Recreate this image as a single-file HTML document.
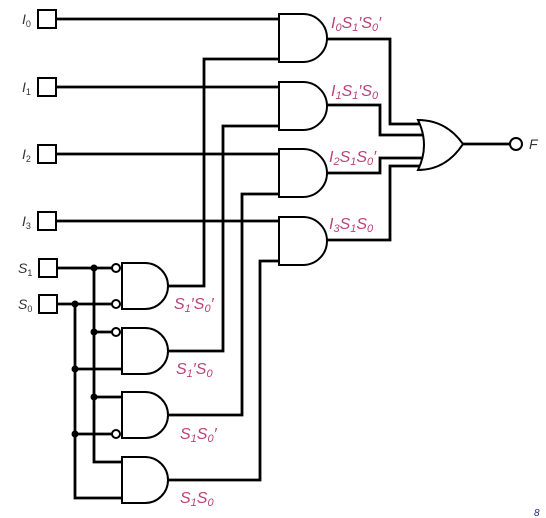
<!DOCTYPE html>
<html><head><meta charset="utf-8"><style>
body{margin:0;background:#fff}
svg{display:block}
.w{stroke:#000;stroke-width:2.8;fill:none}
.g{stroke:#000;stroke-width:2;fill:#fff}
.l{font-family:"Liberation Sans",sans-serif;font-style:italic;fill:#b8447a;font-size:16px}
.i{font-family:"Liberation Sans",sans-serif;font-style:italic;fill:#333;font-size:14px}
</style></head><body>
<svg width="546" height="518" viewBox="0 0 546 518">
<g>
<path class="w" d="M56 19H279M56 87H279M56 154H279M56 221H279"/>
<path class="w" d="M279 59H204V286H168M279 126H223V351H168M279 194H242V415H168M279 261H260V480H168"/>
<path class="w" d="M326 39H390V124H420M326 105H380V135H423M326 173H380V158H423M326 240H390V166H420"/>
<path class="w" d="M463 144H510"/>
<path class="w" d="M57 268H112M57 304H112M94 268V462H122M75 304V498H122M94 332H112M75 369H122M94 397H122M75 434H112"/>
</g>
<g class="g">
<rect x="38" y="10" width="18" height="18"/>
<rect x="38" y="78" width="18" height="18"/>
<rect x="38" y="145" width="18" height="18"/>
<rect x="38" y="212" width="18" height="18"/>
<rect x="39" y="259" width="18" height="18"/>
<rect x="39" y="295" width="18" height="18"/>
</g>
<g class="g">
<path d="M279 14H303A24 24 0 0 1 303 62H279Z"/>
<path d="M279 82H303A24 24 0 0 1 303 130H279Z"/>
<path d="M279 149H303A24 24 0 0 1 303 197H279Z"/>
<path d="M279 217H303A24 24 0 0 1 303 265H279Z"/>
<path d="M122 263H145A23 23 0 0 1 145 309H122Z"/>
<path d="M122 328H145A23 23 0 0 1 145 374H122Z"/>
<path d="M122 392H145A23 23 0 0 1 145 438H122Z"/>
<path d="M122 457H145A23 23 0 0 1 145 503H122Z"/>
<path d="M418 120Q446 120 463 144Q446 170 418 170Q430 145 418 120Z"/>
<circle cx="116" cy="268" r="4"/>
<circle cx="116" cy="304" r="4"/>
<circle cx="116" cy="332" r="4"/>
<circle cx="116" cy="434" r="4"/>
<circle cx="516" cy="144" r="6"/>
</g>
<g fill="#000">
<circle cx="94" cy="268" r="3.5"/><circle cx="75" cy="304" r="3.5"/>
<circle cx="94" cy="332" r="3.5"/><circle cx="75" cy="369" r="3.5"/>
<circle cx="94" cy="397" r="3.5"/><circle cx="75" cy="434" r="3.5"/>
</g>
<g class="i">
<text x="22" y="24">I<tspan font-size="9" dy="3" font-style="normal">0</tspan></text>
<text x="22" y="92">I<tspan font-size="9" dy="3" font-style="normal">1</tspan></text>
<text x="22" y="159">I<tspan font-size="9" dy="3" font-style="normal">2</tspan></text>
<text x="22" y="226">I<tspan font-size="9" dy="3" font-style="normal">3</tspan></text>
<text x="18" y="273">S<tspan font-size="9" dy="3" font-style="normal">1</tspan></text>
<text x="18" y="309">S<tspan font-size="9" dy="3" font-style="normal">0</tspan></text>
<text x="529" y="149">F</text>
</g>
<g class="l">
<text x="331" y="28">I<tspan font-size="11" dy="3">0</tspan><tspan dy="-3">S</tspan><tspan font-size="11" dy="3">1</tspan><tspan dy="-3">′S</tspan><tspan font-size="11" dy="3">0</tspan><tspan dy="-3">′</tspan></text>
<text x="331" y="96">I<tspan font-size="11" dy="3">1</tspan><tspan dy="-3">S</tspan><tspan font-size="11" dy="3">1</tspan><tspan dy="-3">′S</tspan><tspan font-size="11" dy="3">0</tspan></text>
<text x="329" y="162">I<tspan font-size="11" dy="3">2</tspan><tspan dy="-3">S</tspan><tspan font-size="11" dy="3">1</tspan><tspan dy="-3">S</tspan><tspan font-size="11" dy="3">0</tspan><tspan dy="-3">′</tspan></text>
<text x="329" y="229">I<tspan font-size="11" dy="3">3</tspan><tspan dy="-3">S</tspan><tspan font-size="11" dy="3">1</tspan><tspan dy="-3">S</tspan><tspan font-size="11" dy="3">0</tspan></text>
<text x="174" y="309">S<tspan font-size="11" dy="3">1</tspan><tspan dy="-3">′S</tspan><tspan font-size="11" dy="3">0</tspan><tspan dy="-3">′</tspan></text>
<text x="176" y="374">S<tspan font-size="11" dy="3">1</tspan><tspan dy="-3">′S</tspan><tspan font-size="11" dy="3">0</tspan></text>
<text x="180" y="439">S<tspan font-size="11" dy="3">1</tspan><tspan dy="-3">S</tspan><tspan font-size="11" dy="3">0</tspan><tspan dy="-3">′</tspan></text>
<text x="180" y="503">S<tspan font-size="11" dy="3">1</tspan><tspan dy="-3">S</tspan><tspan font-size="11" dy="3">0</tspan></text>
</g>
<text x="534" y="516" font-family="Liberation Sans,sans-serif" font-size="10" font-style="italic" fill="#1a237e">8</text>
</svg>
</body></html>
